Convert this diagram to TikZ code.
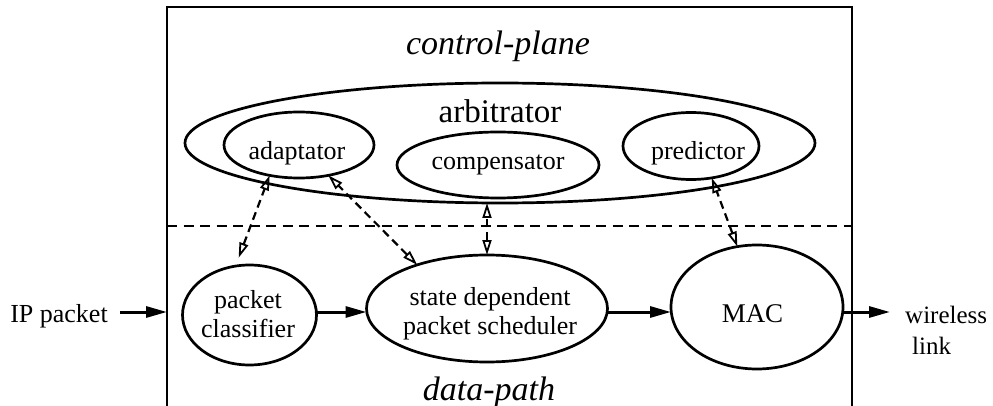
\documentclass[tikz,border=0pt]{standalone}
\usepackage{fontspec}
\setmainfont{Liberation Serif}
\usetikzlibrary{arrows.meta,shapes.geometric}
\tikzset{
  ell/.style={draw, ellipse, line width=2.7pt, inner sep=0pt, outer sep=0pt},
  txt/.style={inner sep=0pt, font=\fontsize{26}{29}\selectfont},
  bigtxt/.style={inner sep=0pt, font=\fontsize{33}{38}\selectfont},
  ital/.style={inner sep=0pt, font=\fontsize{34}{40}\selectfont\itshape},
  flow/.style={-{Triangle[length=21pt,width=11pt]}, line width=3pt},
  ctl/.style={{Triangle[open,length=15pt,width=9pt,line width=1.8pt]}-{Triangle[open,length=15pt,width=9pt,line width=1.8pt]},
    dash pattern=on 8pt off 5pt, line width=2.2pt},
  frame/.style={line width=2.7pt},
  sep/.style={line width=2.2pt, dash pattern=on 10pt off 6.5pt}
}
\begin{document}
\begin{tikzpicture}[x=1pt,y=-1pt]
\useasboundingbox (0,0) rectangle (993,406);
% frame
\coordinate (fbl) at (167,406);
\coordinate (ftl) at (167,7);
\coordinate (ftr) at (852,7);
\coordinate (fbr) at (852,406);
\draw[frame] (fbl) -- (ftl) -- (ftr) -- (fbr);
% separator
\coordinate (dl) at (167,226);
\coordinate (dr) at (852,226);
\draw[sep] (dl) -- (dr);
\coordinate (mid) at (0,312);

% control plane
\node[ital, anchor=base] (cp) at (498,55) {control-plane};
\node[ell, minimum width=630pt, minimum height=120pt] (arb) at (500,143) {};
\node[bigtxt, anchor=base] (arbt) at (500,123) {arbitrator};
\node[ell, minimum width=150pt, minimum height=66pt] (ada) at (299,145) {};
\node[txt, anchor=base] (adat) at (297,160) {adaptator};
\node[ell, minimum width=202pt, minimum height=66pt] (comp) at (498,165) {};
\node[txt, anchor=base] (compt) at (498,170) {compensator};
\node[ell, minimum width=136pt, minimum height=67pt] (pred) at (691,146) {};
\node[txt, anchor=base] (predt) at (698,160) {predictor};

% data path
\node[ell, minimum width=134pt, minimum height=100pt] (cls) at (249.5,315) {};
\node[txt, align=center] (clst) at (248,314) {packet\\classifier};
\node[ell, minimum width=241pt, minimum height=107pt] (sch) at (487,308.5) {};
\node[txt, align=center] (scht) at (490,314) {state dependent\\packet scheduler};
\node[ell, minimum width=172pt, minimum height=124pt] (mac) at (757,307) {};
\node[txt, anchor=base, font=\fontsize{27}{30}\selectfont] (mact) at (752.5,322) {MAC};
\node[ital, anchor=base] (dp) at (489,400) {data-path};

% outside
\node[txt, anchor=base] (ip) at (59,322) {IP packet};
\coordinate (inL) at (167,312);
\node[txt, align=left, anchor=west, font=\fontsize{25}{31}\selectfont] (wl) at (905,330) {wireless\\\hspace*{7pt}link};
\coordinate (outR) at (890,312);

% flow arrows
\draw[flow] ([xshift=12pt]ip.east |- mid) -- (inL);
\draw[flow] (cls.east |- mid) -- (sch.west |- mid);
\draw[flow] (sch.east |- mid) -- (mac.west |- mid);
\draw[flow] (mac.east |- mid) -- (outR);

% control arrows
\draw[ctl, shorten <=9pt] (cls.106) -- (ada.226);
\draw[ctl] (sch.148) -- (ada.314);
\draw[ctl] (sch.north) -- (sch.north |- arb.south);
\draw[ctl] (mac.108) -- (pred.303);
\end{tikzpicture}
\end{document}
